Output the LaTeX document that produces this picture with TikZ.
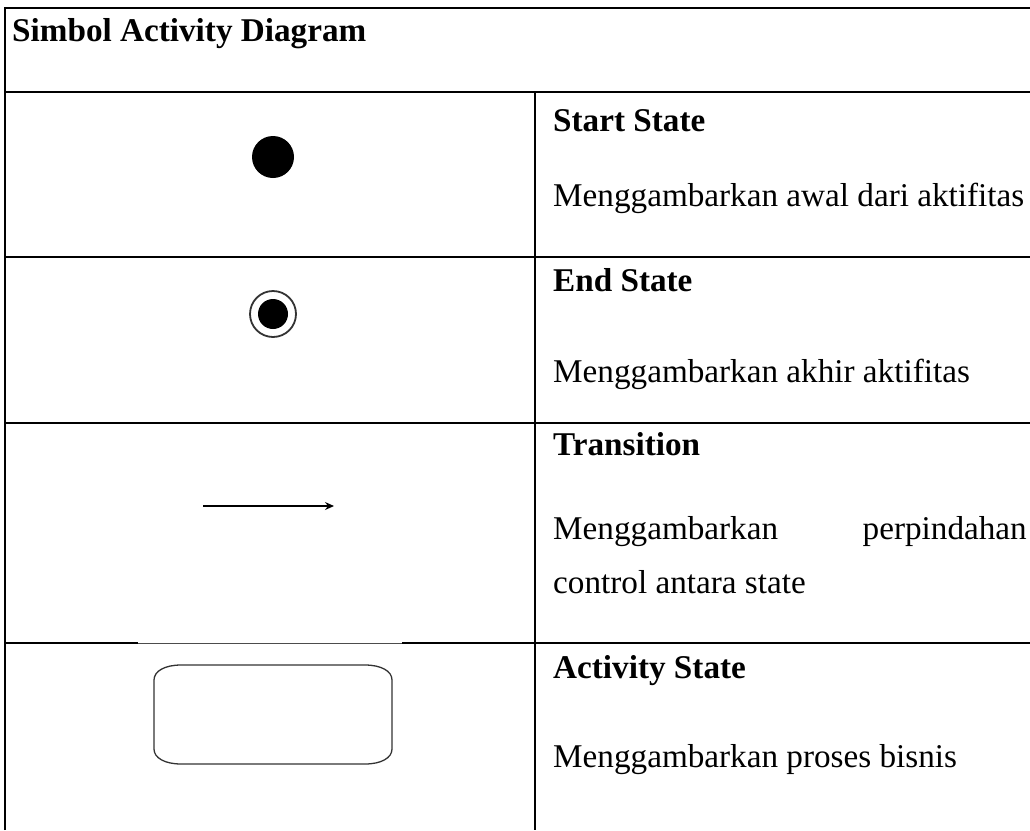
\documentclass[tikz,border=0pt]{standalone}
\usepackage{fontspec}
\setmainfont{Liberation Serif}
\usetikzlibrary{arrows.meta}
\begin{document}
\begin{tikzpicture}[x=1pt,y=-1pt,
  rule/.style={line width=2.6pt,black},
  thinrule/.style={line width=0.8pt,black!70},
  txt/.style={anchor=base west,inner sep=0pt,font=\fontsize{33.2}{40}\selectfont},
  head/.style={txt,font=\fontsize{33.2}{40}\selectfont\bfseries},
  shapeline/.style={line width=1.3pt,black!80}]
\useasboundingbox (0,0) rectangle (1030,830);
% table rules
\draw[rule] (5,830) -- (5,8) -- (1030,8);
\draw[rule] (5,92) -- (1030,92);
\draw[rule] (5,257) -- (1030,257);
\draw[rule] (5,423) -- (1030,423);
\draw[rule] (5,643) -- (138,643);
\draw[thinrule] (138,643) -- (402,643);
\draw[rule] (402,643) -- (1030,643);
\draw[rule] (535,92) -- (535,830);
% texts
\node[head] (title) at (12,41) {Simbol Activity Diagram};
\node[head] (h1) at (553,131) {Start State};
\node[txt] (d1) at (553,206) {Menggambarkan awal dari aktifitas};
\node[head] (h2) at (553,291) {End State};
\node[txt] (d2) at (553,382) {Menggambarkan akhir aktifitas};
\node[head] (h3) at (553,455) {Transition};
\node[txt] (d3a) at (553,539) {Menggambarkan};
\node[txt,anchor=base east] (d3b) at (1027,539) {perpindahan};
\node[txt] (d3c) at (553,593) {control antara state};
\node[head] (h4) at (553,678) {Activity State};
\node[txt] (d4) at (553,767) {Menggambarkan proses bisnis};
% symbols
\node[circle,fill=black,minimum size=42pt,inner sep=0pt] (start) at (273,157) {};
\node[circle,draw=black!80,line width=1.8pt,minimum size=46pt,inner sep=0pt] (endo) at (273,314) {};
\node[circle,fill=black,minimum size=30pt,inner sep=0pt] (endi) at (273,314) {};
\coordinate (ta) at (203,506);
\coordinate (tb) at (334,506);
\draw[line width=1.8pt,-{Stealth[length=9pt,width=8pt,inset=3pt]}] (ta) -- (tb);
\draw[shapeline] (181,665) -- (365,665) .. controls (381,665) and (392,671) .. (392,680)
  -- (392,749) .. controls (392,758) and (381,764) .. (365,764)
  -- (181,764) .. controls (165,764) and (154,758) .. (154,749)
  -- (154,680) .. controls (154,671) and (165,665) .. (181,665) -- cycle;
\end{tikzpicture}
\end{document}
